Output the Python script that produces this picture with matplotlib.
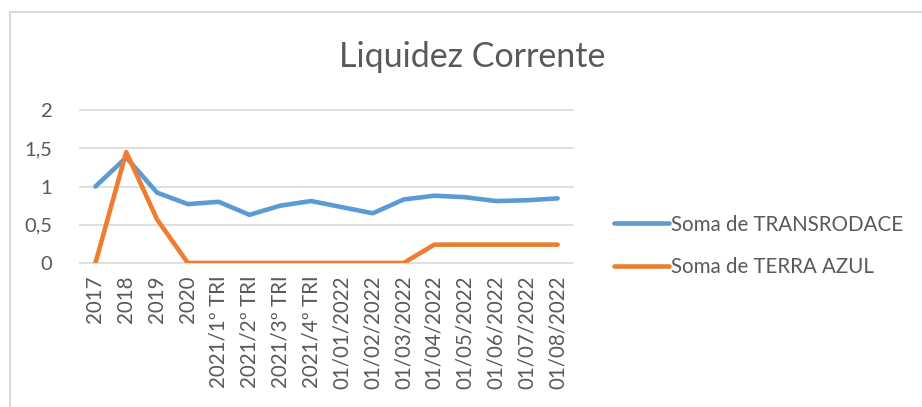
import matplotlib.pyplot as plt
from matplotlib.patches import Rectangle

categorias = ['2017', '2018', '2019', '2020',
              '2021/1º TRI', '2021/2º TRI', '2021/3º TRI', '2021/4º TRI',
              '01/01/2022', '01/02/2022', '01/03/2022', '01/04/2022',
              '01/05/2022', '01/06/2022', '01/07/2022', '01/08/2022']
transrodace = [1.00, 1.38, 0.92, 0.77, 0.80, 0.63, 0.75, 0.81,
               0.73, 0.65, 0.83, 0.88, 0.86, 0.81, 0.82, 0.845]
terra_azul = [0.00, 1.45, 0.57, 0.00, 0.00, 0.00, 0.00, 0.00,
              0.00, 0.00, 0.00, 0.24, 0.24, 0.24, 0.24, 0.24]
y_ticks = [0, 0.5, 1, 1.5, 2]
y_labels = ['0', '0,5', '1', '1,5', '2']

plt.rcParams['font.family'] = ['Lato', 'DejaVu Sans']
cinza = '#595959'

fig = plt.figure(figsize=(9.22, 4.07), dpi=100)
ax = fig.add_axes([0.0868, 0.3538, 0.5347, 0.3759])
# chart area border (cropped on right and bottom)
fig.patches.append(Rectangle((10 / 922, -0.02), 1.0, 1 - 12 / 407 + 0.02,
                             transform=fig.transFigure, fill=False,
                             edgecolor='#D9D9D9', linewidth=1.5))

x = list(range(len(categorias)))
ax.plot(x, transrodace, color='#5B9BD5', linewidth=3.3, solid_capstyle='round',
        solid_joinstyle='round', label='Soma de TRANSRODACE', zorder=3)
ax.plot(x, terra_azul, color='#ED7D31', linewidth=3.3, solid_capstyle='round',
        solid_joinstyle='round', label='Soma de TERRA AZUL', zorder=4)

ax.set_xlim(-0.5, len(categorias) - 0.5)
ax.set_ylim(0, 2)
ax.set_yticks(y_ticks)
ax.set_yticklabels(y_labels, fontsize=14.5, color=cinza)
ax.set_xticks(x)
ax.set_xticklabels(categorias, rotation=90, fontsize=14.8, color=cinza)
ax.tick_params(length=0, pad=9)
ax.tick_params(axis='y', pad=20)
for s in ax.spines.values():
    s.set_visible(False)
ax.grid(axis='y', color='#D9D9D9', linewidth=1.2)
ax.set_axisbelow(True)
for gl in ax.get_ygridlines():
    gl.set_clip_on(False)

fig.text(472 / 922, 1 - 57 / 407, 'Liquidez Corrente', fontsize=24.5,
         color=cinza, ha='center', va='center')

fig.legend(loc='center left', bbox_to_anchor=(595 / 922, 1 - 246 / 407),
           frameon=False, fontsize=14.8, handlelength=2.7, handletextpad=0.1,
           labelspacing=1.1, labelcolor=cinza)

fig.savefig('out.png', dpi=100)
